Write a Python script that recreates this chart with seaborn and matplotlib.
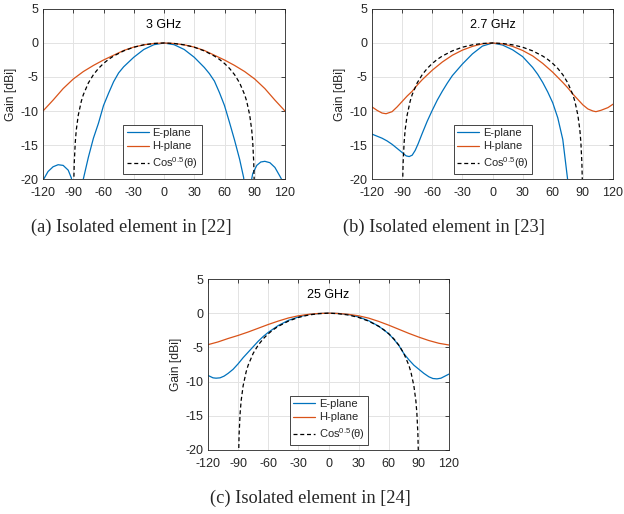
import numpy as np
import pandas as pd
import matplotlib
matplotlib.use("Agg")
import matplotlib.pyplot as plt
import seaborn as sns

# ---------------- data ----------------
# cos^0.5(theta) reference pattern, dB (same in all panels)
COS_ANG = [-89.9, -89.5, -89, -88, -87, -85, -82, -80, -75, -70, -65, -60, -55, -50, -40, -30, -20, -10, 0,
           10, 20, 30, 40, 50, 55, 60, 65, 70, 75, 80, 82, 85, 87, 88, 89, 89.5, 89.9]
COS_VAL = [-27.6, -20.6, -17.6, -14.6, -12.8, -10.6, -8.56, -7.6, -5.87, -4.66, -3.74, -3.01, -2.41, -1.92, -1.16, -0.62, -0.27, -0.07, 0.0,
           -0.07, -0.27, -0.62, -1.16, -1.92, -2.41, -3.01, -3.74, -4.66, -5.87, -7.6, -8.56, -10.6, -12.8, -14.6, -17.6, -20.6, -27.6]

# (a) 3 GHz
A_E_ANG = [-120, -115, -110, -105, -100, -95, -92, -89, -86, -83, -80, -75, -70, -65, -60, -55, -50, -45, -40, -30, -20, -10, 0,
           10, 20, 30, 40, 45, 50, 55, 60, 65, 70, 75, 79, 82, 85, 88, 92, 96, 100, 105, 110, 115, 120]
A_E_VAL = [-20.2, -18.9, -18.2, -17.9, -18.0, -18.7, -19.8, -22.0, -28.0, -23.0, -20.0, -16.8, -14.0, -11.8, -9.2, -7.4, -5.7, -4.4, -3.5, -2.1, -0.95, -0.25, 0.0,
           -0.25, -0.95, -2.1, -3.6, -4.5, -5.6, -7.3, -9.2, -11.7, -14.3, -17.1, -19.8, -26.0, -21.5, -19.2, -18.0, -17.5, -17.4, -17.6, -18.3, -19.6, -21.0]
A_H_ANG = [-120, -110, -100, -90, -80, -70, -60, -50, -40, -30, -20, -10, 0, 10, 20, 30, 40, 50, 60, 70, 80, 90, 100, 110, 120]
A_H_VAL = [-10.0, -8.4, -6.7, -5.3, -4.2, -3.3, -2.5, -1.8, -1.1, -0.6, -0.27, -0.07, 0.0,
           -0.07, -0.27, -0.6, -1.1, -1.8, -2.5, -3.3, -4.2, -5.3, -6.7, -8.4, -10.0]

# (b) 2.7 GHz
B_E_ANG = [-120, -110, -105, -100, -95, -90, -86, -83, -80, -77, -74, -70, -65, -60, -55, -50, -45, -40, -30, -20, -10, 0,
           10, 20, 30, 40, 45, 50, 55, 60, 65, 70, 75, 80]
B_E_VAL = [-13.4, -14.0, -14.4, -14.9, -15.5, -16.1, -16.6, -16.7, -16.5, -15.8, -14.8, -13.3, -11.5, -9.9, -8.4, -7.1, -5.9, -4.8, -3.1, -1.6, -0.45, 0.0,
           -0.3, -1.0, -2.0, -3.6, -4.6, -5.8, -7.2, -8.8, -11.0, -14.2, -20.3, -26.0]
B_H_ANG = [-120, -115, -110, -106, -100, -95, -90, -85, -80, -75, -70, -60, -50, -40, -30, -20, -10, 0,
           10, 20, 30, 40, 50, 60, 70, 75, 80, 85, 90, 95, 100, 103, 108, 115, 120]
B_H_VAL = [-9.4, -9.9, -10.3, -10.4, -10.1, -9.4, -8.6, -7.8, -7.1, -6.2, -5.4, -4.0, -2.8, -1.8, -1.05, -0.5, -0.12, 0.0,
           -0.12, -0.5, -1.1, -1.9, -3.0, -4.3, -5.8, -6.6, -7.5, -8.3, -9.1, -9.7, -10.0, -10.1, -9.9, -9.5, -9.0]

# (c) 25 GHz
C_E_ANG = [-120, -115, -112, -108, -104, -100, -95, -90, -85, -80, -75, -70, -65, -60, -50, -40, -30, -20, -10, 0,
           10, 20, 30, 40, 50, 60, 65, 70, 75, 80, 85, 90, 95, 100, 104, 108, 112, 116, 120]
C_E_VAL = [-9.1, -9.45, -9.5, -9.45, -9.2, -8.8, -8.2, -7.4, -6.5, -5.7, -4.9, -4.1, -3.4, -2.8, -1.8, -1.05, -0.55, -0.2, -0.05, 0.0,
           -0.05, -0.2, -0.55, -1.1, -1.9, -3.0, -3.8, -4.7, -5.9, -6.8, -7.6, -8.2, -8.8, -9.3, -9.55, -9.6, -9.5, -9.2, -8.9]
C_H_ANG = [-120, -110, -100, -90, -80, -70, -60, -50, -40, -30, -20, -10, 0, 10, 20, 30, 40, 50, 60, 70, 80, 90, 100, 110, 120]
C_H_VAL = [-4.6, -4.2, -3.7, -3.25, -2.75, -2.2, -1.65, -1.15, -0.7, -0.38, -0.17, -0.04, 0.0,
           -0.04, -0.17, -0.38, -0.72, -1.2, -1.75, -2.35, -2.95, -3.5, -4.0, -4.4, -4.65]

TITLES = ["3 GHz", "2.7 GHz", "25 GHz"]
CAPTIONS = ["(a) Isolated element in [22]", "(b) Isolated element in [23]", "(c) Isolated element in [24]"]
X_TICKS = [-120, -90, -60, -30, 0, 30, 60, 90, 120]
Y_TICKS = [-20, -15, -10, -5, 0, 5]
LABELS = ["E-plane", "H-plane", "Cos$^{\\mathregular{0.5}}$(θ)"]

# ---------------- style ----------------
sns.set_style("white")
plt.rcParams["font.family"] = ["Liberation Sans", "DejaVu Sans"]
plt.rcParams["mathtext.fontset"] = "custom"
plt.rcParams["mathtext.rm"] = "Liberation Sans"
plt.rcParams["mathtext.it"] = "Liberation Sans:italic"
plt.rcParams["mathtext.bf"] = "Liberation Sans:bold"
plt.rcParams["axes.unicode_minus"] = False

BLUE = "#0072BD"
ORANGE = "#D95319"
AXC = "#262626"

W, H = 624, 514
fig = plt.figure(figsize=(W / 100, H / 100), dpi=100)
fig.patch.set_facecolor("white")


def axes_px(x0, y0, x1, y1):
    return fig.add_axes([x0 / W, 1 - y1 / H, (x1 - x0) / W, (y1 - y0) / H])


panels = [
    (axes_px(43, 9, 285, 179), A_E_ANG, A_E_VAL, A_H_ANG, A_H_VAL, 0.494),
    (axes_px(372, 9, 613, 179), B_E_ANG, B_E_VAL, B_H_ANG, B_H_VAL, 0.502),
    (axes_px(208, 279, 449, 450), C_E_ANG, C_E_VAL, C_H_ANG, C_H_VAL, 0.502),
]

for i, (ax, ea, ev, ha, hv, legx) in enumerate(panels):
    sns.lineplot(x=ea, y=ev, ax=ax, color=BLUE, lw=0.9, label=LABELS[0], sort=False)
    sns.lineplot(x=ha, y=hv, ax=ax, color=ORANGE, lw=0.9, label=LABELS[1], sort=False)
    sns.lineplot(x=COS_ANG, y=COS_VAL, ax=ax, color="black", lw=0.9, label=LABELS[2], sort=False)
    ax.lines[-1].set_dashes([3.2, 2.2])
    ax.set_xlim(-120, 120)
    ax.set_ylim(-20, 5)
    ax.set_xticks(X_TICKS)
    ax.set_yticks(Y_TICKS)
    ax.grid(True, color="#e3e3e3", lw=0.7)
    ax.set_axisbelow(True)
    for s in ax.spines.values():
        s.set_color(AXC)
        s.set_linewidth(0.6)
        s.set_visible(True)
    ax.tick_params(direction="in", length=3, width=0.6, colors=AXC, labelsize=9,
                   top=True, right=True)
    ax.tick_params(axis="x", pad=6)
    ax.tick_params(axis="y", pad=3.5)
    ax.set_xlabel("")
    ax.set_ylabel("Gain [dBi]", fontsize=8.7, color=AXC, labelpad=2)
    ax.text(0.5, 0.905, TITLES[i], transform=ax.transAxes, ha="center", va="center",
            fontsize=9, color="black")
    leg = ax.legend(loc="lower center", bbox_to_anchor=(legx, 0.03), fontsize=8.0,
                    frameon=True, fancybox=False, edgecolor=AXC, framealpha=1,
                    handlelength=2.0, handletextpad=0.3, labelspacing=0.3,
                    borderpad=0.3, borderaxespad=0)
    leg.get_frame().set_linewidth(0.6)
    leg.get_lines()[2].set_dashes([3.2, 2.2])

fig.text(131 / W, 1 - 227 / H, CAPTIONS[0], ha="center", va="center",
         family="Liberation Serif", fontsize=13.2)
fig.text(444 / W, 1 - 227 / H, CAPTIONS[1], ha="center", va="center",
         family="Liberation Serif", fontsize=13.2)
fig.text(310 / W, 1 - 498 / H, CAPTIONS[2], ha="center", va="center",
         family="Liberation Serif", fontsize=13.2)

fig.savefig("out.png", dpi=100, facecolor="white")
